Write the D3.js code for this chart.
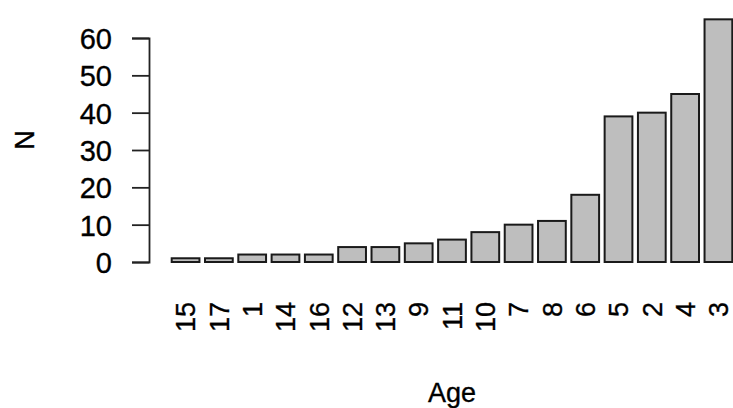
<!DOCTYPE html>
<html>
<head>
<meta charset="utf-8">
<script src="https://cdn.jsdelivr.net/npm/d3@7"></script>
<style>
  html, body { margin: 0; padding: 0; background: #fff; }
  svg { display: block; }
  text { font-family: "Liberation Sans", Arial, sans-serif; fill: #000; stroke: #000; stroke-width: 0.35px; }
</style>
</head>
<body>
<script>
// Counts per age group, sorted ascending
const ages = ["15", "17", "1", "14", "16", "12", "13", "9", "11", "10", "7", "8", "6", "5", "2", "4", "3"];
const counts = [1, 1, 2, 2, 2, 4, 4, 5, 6, 8, 10, 11, 18, 39, 40, 45, 65];
const yTicks = [0, 10, 20, 30, 40, 50, 60];
const xTitle = "Age";
const yTitle = "N";

const W = 733, H = 408;
const fontSize = 27;

const svg = d3.select("body").append("svg")
  .attr("width", W).attr("height", H);

// Bars: width 1, gap 0.2 between neighbours
const x = d3.scaleBand()
  .domain(ages)
  .range([171.7, 732.3])
  .paddingInner(0.2 / 1.2)
  .paddingOuter(0);

const y = d3.scaleLinear()
  .domain([0, 60])
  .range([262, 38]);

// Bars
svg.append("g")
  .selectAll("rect")
  .data(ages.map((a, i) => ({ age: a, n: counts[i] })))
  .join("rect")
  .attr("x", d => x(d.age))
  .attr("width", x.bandwidth())
  .attr("y", d => y(d.n))
  .attr("height", d => y(0) - y(d.n))
  .attr("fill", "#bebebe")
  .attr("stroke", "#1a1a1a")
  .attr("stroke-width", 2);

// Y axis
const yAxis = d3.axisLeft(y)
  .tickValues(yTicks)
  .tickSize(17)
  .tickPadding(20)
  .tickFormat(d3.format("d"));

const gy = svg.append("g")
  .attr("transform", "translate(149,0)")
  .call(yAxis);
gy.select(".domain").attr("stroke", "#222").attr("stroke-width", 1.8);
gy.selectAll(".tick line").attr("stroke", "#222").attr("stroke-width", 1.8);
gy.selectAll(".tick text")
  .style("font-family", "'Liberation Sans', Arial, sans-serif")
  .attr("font-size", 29)
  .attr("fill", "#000")
  .attr("dy", "0.36em");

// X category labels, rotated to read upward
svg.append("g")
  .selectAll("text")
  .data(ages)
  .join("text")
  .attr("transform", d => `translate(${x(d) + x.bandwidth() / 2},302) rotate(-90)`)
  .attr("text-anchor", "end")
  .attr("dy", "0.36em")
  .attr("font-size", fontSize)
  .text(d => d);

// Axis titles
svg.append("text")
  .attr("x", (x.range()[0] + x.range()[1]) / 2)
  .attr("y", 401.5)
  .attr("text-anchor", "middle")
  .attr("font-size", fontSize)
  .text(xTitle);

svg.append("text")
  .attr("transform", `translate(34,140) rotate(-90)`)
  .attr("text-anchor", "middle")
  .attr("font-size", fontSize)
  .text(yTitle);
</script>
</body>
</html>
